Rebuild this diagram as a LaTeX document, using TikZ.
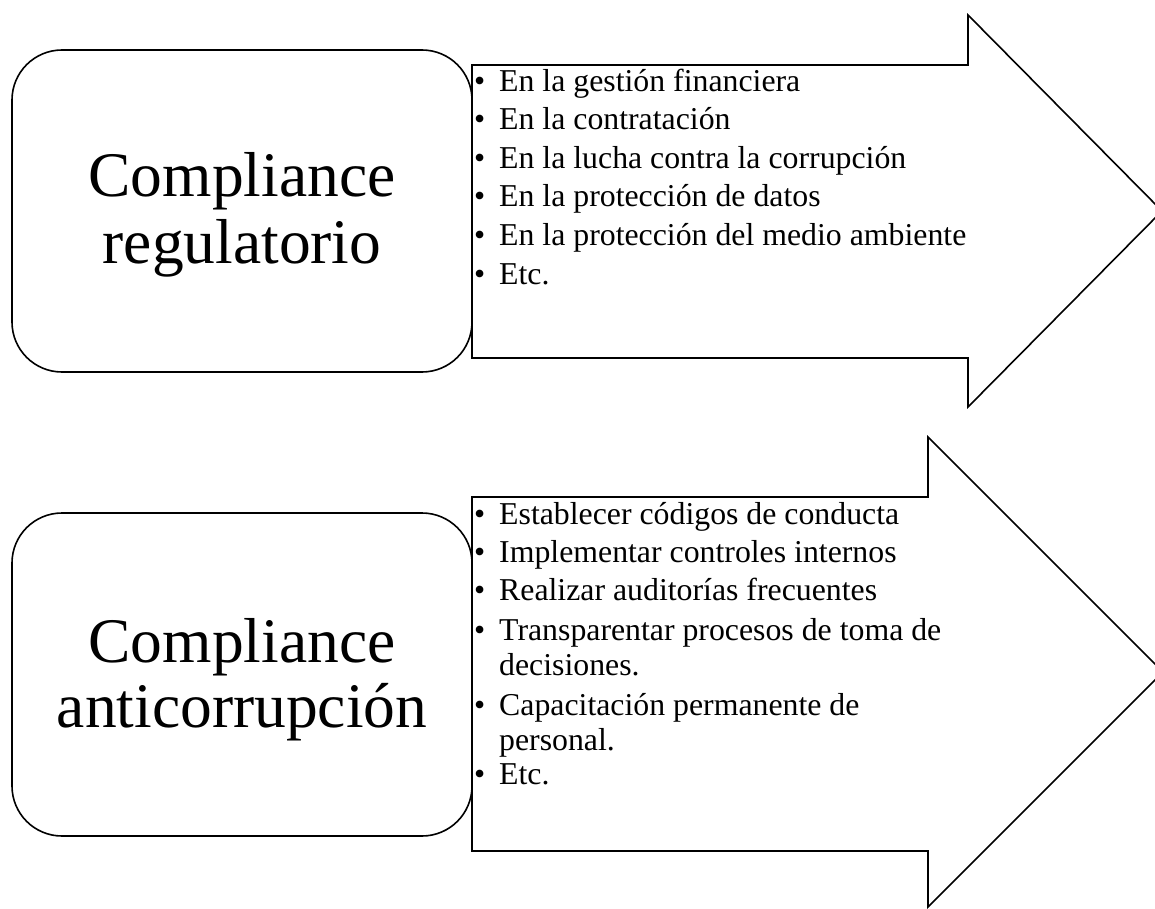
\documentclass[tikz,border=0pt]{standalone}
\usepackage{fontspec}
\setmainfont{Liberation Serif}
\begin{document}
\begin{tikzpicture}[x=1pt,y=-1pt,
  outline/.style={draw=black, line width=1.6pt, line join=miter, fill=white},
  roundbox/.style={outline, rounded corners=50pt},
  bigtext/.style={font=\fontsize{63.5}{66}\selectfont, anchor=base, inner sep=0pt},
  itemtext/.style={font=\fontsize{31.8}{35}\selectfont, anchor=base west, inner sep=0pt},
  bul/.style={font=\fontsize{31.8}{35}\selectfont, anchor=base west, inner sep=0pt}]
\useasboundingbox (0,0) rectangle (1155,909);
\clip (0,0) rectangle (1155,909);
% top group
\draw[roundbox] (12,50) rectangle (472,372);
\draw[outline] (472,65) -- (968,65) -- (968,15) -- (1162,211) -- (968,407) -- (968,358) -- (472,358) -- cycle;
\node[bigtext] (ta) at (242,197) {Compliance};
\node[bigtext] (tb) at (242,263) {regulatorio};
\foreach \y/\t/\n in {92/En la gestión financiera/1,130/En la contratación/2,169/En la lucha contra la corrupción/3,207/En la protección de datos/4,245/En la protección del medio ambiente/5,284/Etc./6}{
  \node[bul] (tbul\n) at (474,\y) {•};
  \node[itemtext] (titem\n) at (499,\y) {\t};
}
% bottom group
\draw[roundbox] (12,513) rectangle (472,836);
\draw[outline] (472,497) -- (928,497) -- (928,437) -- (1163,672) -- (928,907) -- (928,851) -- (472,851) -- cycle;
\node[bigtext] (ba) at (242,662) {Compliance};
\node[bigtext] (bb) at (242,727) {anticorrupción};
\foreach \y/\t/\n in {524/Establecer códigos de conducta/1,562/Implementar controles internos/2,600/Realizar auditorías frecuentes/3,640/Transparentar procesos de toma de/4,715/Capacitación permanente de/6,784/Etc./8}{
  \node[bul] (bbul\n) at (474,\y) {•};
  \node[itemtext] (bitem\n) at (499,\y) {\t};
}
\node[itemtext] (bitem5) at (499,675) {decisiones.};
\node[itemtext] (bitem7) at (499,750) {personal.};
\end{tikzpicture}
\end{document}
